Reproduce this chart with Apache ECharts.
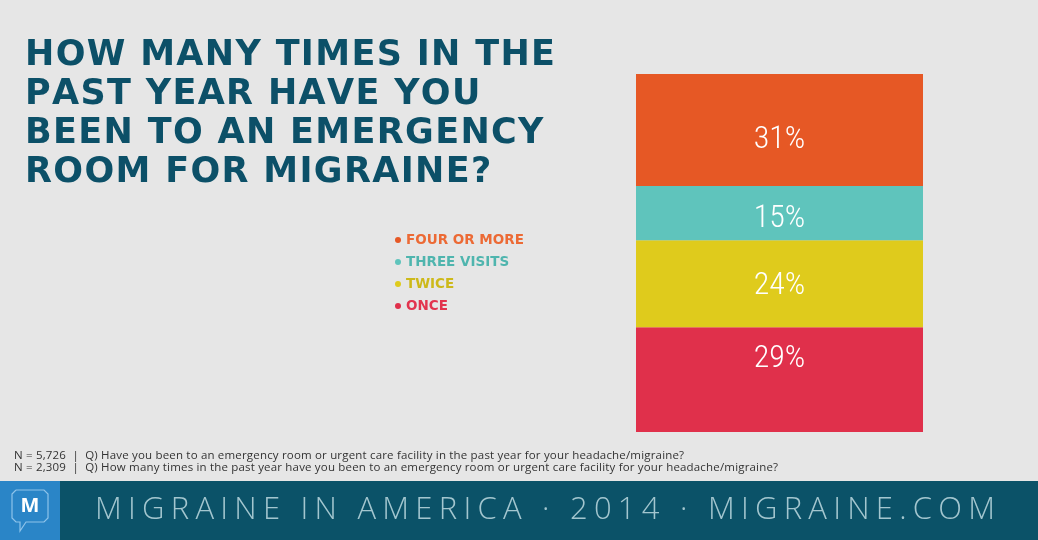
<!DOCTYPE html>
<html><head><meta charset="utf-8">
<script src="https://cdn.jsdelivr.net/npm/echarts@6/dist/echarts.min.js"></script>
<style>html,body{margin:0;padding:0;background:#e6e6e6;}#c{width:1038px;height:540px;}</style>
</head><body><div id="c"></div>
<script>
const categories = ['ER visits'];
const seriesNames = ['ONCE', 'TWICE', 'THREE VISITS', 'FOUR OR MORE'];
const seriesValues = [29, 24, 15, 31];
const seriesColors = ['#e0304b', '#dfcb1c', '#5fc4bc', '#e65825'];
const legendTextColors = ['#e2344e', '#cdb91a', '#4fb5ae', '#ec6a35'];
const legendOrder = ['FOUR OR MORE', 'THREE VISITS', 'TWICE', 'ONCE'];
const titleLines = ['HOW MANY TIMES IN THE', 'PAST YEAR HAVE YOU', 'BEEN TO AN EMERGENCY', 'ROOM FOR MIGRAINE?'];
const footnotes = [
  'N = 5,726  |  Q) Have you been to an emergency room or urgent care facility in the past year for your headache/migraine?',
  'N = 2,309  |  Q) How many times in the past year have you been to an emergency room or urgent care facility for your headache/migraine?'
];
const footerText = 'MIGRAINE IN AMERICA · 2014 · MIGRAINE.COM';

const total = seriesValues.reduce((a, b) => a + b, 0);
const chart = echarts.init(document.getElementById('c'));

const mctx = document.createElement('canvas').getContext('2d');
function charWidths(text, font) {
  mctx.font = font;
  return Array.from(text).map(ch => mctx.measureText(ch).width);
}
function spacingToFit(text, font, target) {
  const ws = charWidths(text, font);
  const w = ws.reduce((a, b) => a + b, 0);
  return (target - w) / Math.max(1, ws.length - 1);
}
function spacedText(text, x, y, font, spacing, fill, vAlign) {
  const ws = charWidths(text, font);
  const out = [];
  let cx = x;
  Array.from(text).forEach((ch, i) => {
    if (ch !== ' ') {
      out.push({ type: 'text', x: cx, y: y, silent: true,
        style: { text: ch, fill: fill, font: font, verticalAlign: vAlign || 'top' } });
    }
    cx += ws[i] + spacing;
  });
  return out;
}

const labelOffsets = [[0, 0], [0, 2], [0, 6], [0, 10]];
const series = seriesNames.map((name, i) => ({
  name: name,
  type: 'bar',
  stack: 'all',
  barWidth: '100%',
  data: [seriesValues[i]],
  itemStyle: { color: seriesColors[i] },
  label: {
    show: true,
    position: i === 0 ? 'insideTop' : 'inside',
    distance: 16,
    offset: labelOffsets[i],
    formatter: '{c}%',
    color: '#ffffff',
    fontFamily: '"Roboto Condensed", sans-serif',
    fontWeight: 300,
    fontSize: 32
  },
  emphasis: { disabled: true }
}));

let graphics = [];
const titleFont = 'bold 35px "DejaVu Sans", sans-serif';
const titleSpacing = spacingToFit(titleLines[0], titleFont, 530);
titleLines.forEach((t, i) => {
  graphics = graphics.concat(spacedText(t, 25, 38 + i * 39, titleFont, titleSpacing, '#0c5068'));
});
const fnFont = '11.5px "Open Sans", sans-serif';
const fnSpacing = spacingToFit(footnotes[1], fnFont, 764);
footnotes.forEach((t, i) => {
  graphics = graphics.concat(spacedText(t, 14, 450 + i * 12, fnFont, fnSpacing, '#333333'));
});
graphics.push({ type: 'rect', shape: { x: 0, y: 481, width: 1038, height: 59 }, style: { fill: '#0b5268' } });
graphics.push({ type: 'rect', shape: { x: 0, y: 481, width: 60, height: 59 }, style: { fill: '#2a85c7' } });
graphics.push({
  type: 'polyline',
  shape: { points: [[16, 490], [44, 490], [48, 494], [48, 518], [44, 522], [26, 522], [20, 531], [20, 522], [16, 522], [12, 518], [12, 494], [16, 490]] },
  style: { fill: 'none', stroke: '#8ec3ea', lineWidth: 1.2 }
});
graphics.push({
  type: 'text', x: 30, y: 506,
  style: { text: 'M', fill: '#ffffff', font: 'bold 20px "Open Sans", sans-serif', align: 'center', verticalAlign: 'middle' }
});
const footFont = '300 31px "Open Sans", sans-serif';
const footSpacing = spacingToFit(footerText, footFont, 900);
graphics = graphics.concat(spacedText(footerText, 95, 510, footFont, footSpacing, '#a3c6cf', 'middle'));

chart.setOption({
  backgroundColor: '#e6e6e6',
  animation: false,
  grid: { left: 636, top: 74, width: 287, height: 358 },
  xAxis: { type: 'category', data: categories, show: false },
  yAxis: { type: 'value', min: 0, max: total, show: false },
  legend: {
    orient: 'vertical', left: 390, top: 228,
    icon: 'circle', itemWidth: 6, itemHeight: 6, itemGap: 8,
    selectedMode: false,
    data: legendOrder.map(n => ({ name: n, textStyle: { color: legendTextColors[seriesNames.indexOf(n)] } })),
    textStyle: { fontFamily: 'DejaVu Sans, sans-serif', fontWeight: 'bold', fontSize: 13.5 }
  },
  series: series,
  graphic: graphics
});
</script></body></html>
